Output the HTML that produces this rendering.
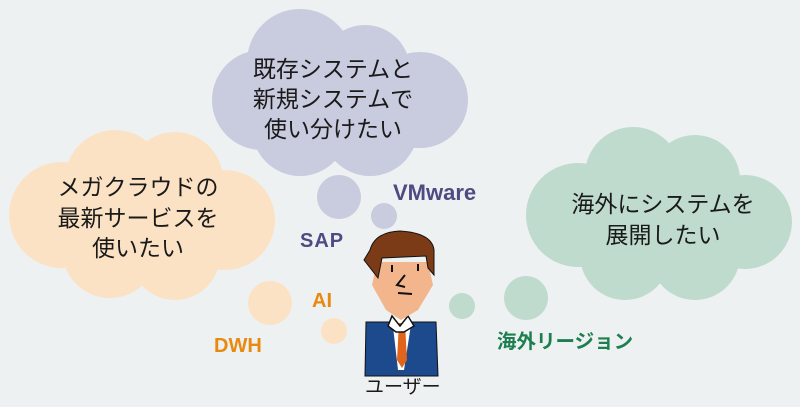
<!DOCTYPE html>
<html><head><meta charset="utf-8"><style>
html,body{margin:0;padding:0;background:#eef1f2;}
svg{display:block}
.t{font-family:"Liberation Sans","Noto Sans CJK JP",sans-serif;}
</style></head><body>
<svg width="800" height="407" viewBox="0 0 800 407" xmlns="http://www.w3.org/2000/svg">
<rect width="800" height="407" fill="#eef1f2"/>
<g fill="#c9cbdf">
<circle cx="262" cy="100" r="50"/>
<circle cx="300" cy="62" r="53"/>
<circle cx="365" cy="70" r="45"/>
<circle cx="420" cy="100" r="48"/>
<circle cx="300" cy="128" r="48"/>
<circle cx="370" cy="128" r="48"/>
<circle cx="336" cy="100" r="55"/>
<circle cx="339" cy="197" r="22"/>
<circle cx="384" cy="216" r="13"/>
</g>
<g fill="#fce2c4">
<circle cx="62" cy="215" r="53"/>
<circle cx="115" cy="180" r="50"/>
<circle cx="175" cy="180" r="48"/>
<circle cx="225" cy="220" r="50"/>
<circle cx="110" cy="250" r="48"/>
<circle cx="175" cy="255" r="45"/>
<circle cx="140" cy="215" r="60"/>
<circle cx="270" cy="303" r="22"/>
<circle cx="334" cy="331" r="13"/>
</g>
<g fill="#bfdbcd">
<circle cx="578" cy="215" r="52"/>
<circle cx="633" cy="175" r="48"/>
<circle cx="695" cy="180" r="45"/>
<circle cx="745" cy="222" r="47"/>
<circle cx="625" cy="255" r="45"/>
<circle cx="695" cy="255" r="45"/>
<circle cx="665" cy="218" r="60"/>
<circle cx="526" cy="298" r="22"/>
<circle cx="462" cy="306" r="13"/>
</g>
<g class="t" font-size="23" fill="#1a1a1a" text-anchor="middle">
<text x="333" y="77">既存システムと</text>
<text x="333" y="107">新規システムで</text>
<text x="333" y="137">使い分けたい</text>
<text x="138" y="195">メガクラウドの</text>
<text x="138" y="226">最新サービスを</text>
<text x="138" y="256">使いたい</text>
<text x="663" y="212">海外にシステムを</text>
<text x="663" y="243">展開したい</text>
</g>
<g class="t" font-weight="bold">
<text x="393" y="200" font-size="22" fill="#4e4a82">VMware</text>
<text x="300" y="247" font-size="20" fill="#4e4a82" letter-spacing="1">SAP</text>
<text x="312" y="307" font-size="20" fill="#e88a10">AI</text>
<text x="214" y="352" font-size="20" fill="#e88a10">DWH</text>
<text x="497" y="348" font-size="19.5" fill="#1d7f4f">海外リージョン</text>
</g>
<text class="t" x="365" y="393" font-size="19" fill="#1a1a1a">ユーザー</text>
<g>
<path d="M366 322 L436 322 L438 376 L365 376 Z" fill="#1c4a8c" stroke="#111" stroke-width="1"/>
<path d="M392 318 L412 318 L404 370 L398 370 Z" fill="#fff"/>
<path d="M399 323 L405 323 L407 360 L402 368 L397 360 Z" fill="#e0641c"/>
<path d="M392 316 L400 326 L408 316 L414 326 L404 332 L396 332 L388 326 Z" fill="#fff" stroke="#111" stroke-width="1.5"/>
<path d="M377 262 L428 262 L433 285 L418 310 L401 320 L386 310 L372 285 Z" fill="#f3b68c"/>
<path d="M370 250 Q375 232 400 231 Q432 233 434 250 L434 275 L428 268 L426 256 L382 258 L378 278 L364 260 Z" fill="#7b3b16" stroke="#111" stroke-width="1"/>
<path d="M392 265 L392 272 M418 264 L418 271 M405 275 L397 285 L405 287 M398 293 L412 294" stroke="#111" stroke-width="2" fill="none"/>
</g>
</svg>
</body></html>
